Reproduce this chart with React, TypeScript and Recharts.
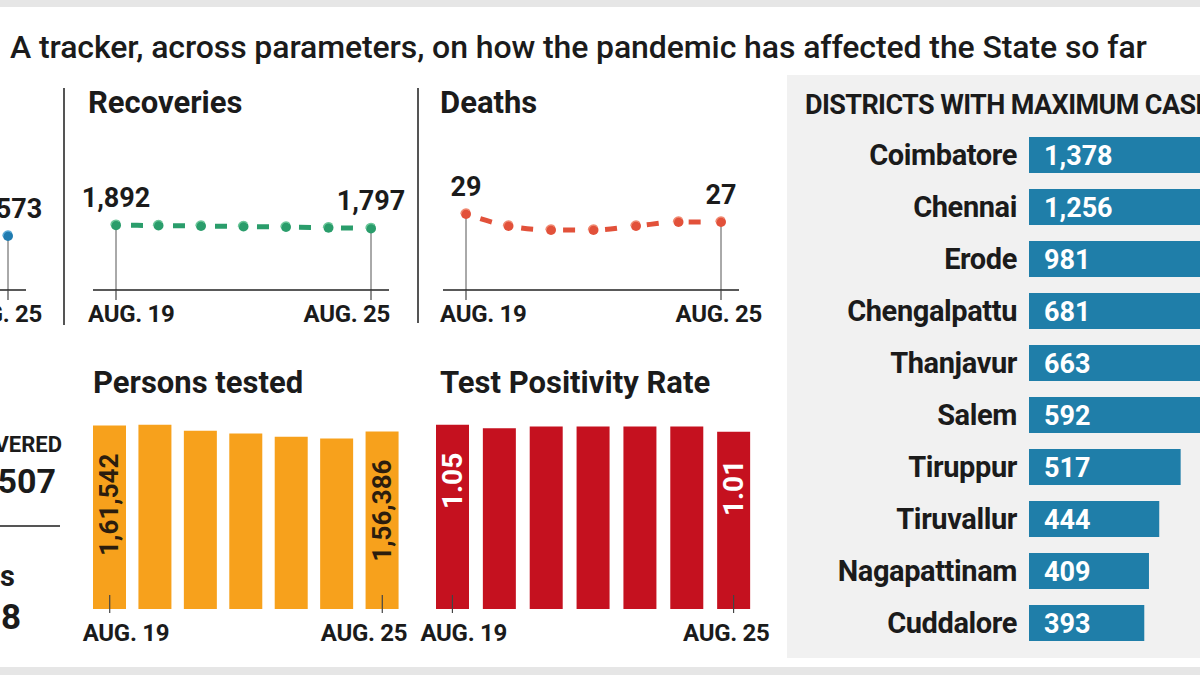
import React from "react";
import {
  LineChart,
  Line,
  BarChart,
  Bar,
  XAxis,
  YAxis,
  ReferenceLine,
  LabelList,
} from "recharts";

const days = ["AUG. 19", "AUG. 20", "AUG. 21", "AUG. 22", "AUG. 23", "AUG. 24", "AUG. 25"];
const newCases = [1702, 1668, 1652, 1630, 1604, 1585, 1573];
const recoveries = [1892, 1879, 1866, 1851, 1836, 1817, 1797];
const deaths = [29, 26, 25, 25, 26, 27, 27];
const personsTested = [161542, 162400, 157100, 154500, 151800, 150100, 156386];
const positivityRate = [1.05, 1.03, 1.04, 1.04, 1.04, 1.04, 1.01];

const districts = [
  "Coimbatore",
  "Chennai",
  "Erode",
  "Chengalpattu",
  "Thanjavur",
  "Salem",
  "Tiruppur",
  "Tiruvallur",
  "Nagapattinam",
  "Cuddalore",
];
const districtCases = [1378, 1256, 981, 681, 663, 592, 517, 444, 409, 393];

const ink = "#1b1b1b";
const font = "Roboto, 'Noto Sans', sans-serif";
const fmt = (v: number) => v.toLocaleString("en-IN");
const last = days.length - 1;

// absolutely placed html text; cy = vertical centre, right = x of right edge
function Txt({ left, right, cy, size, weight = 700, spacing = 0, children }: any) {
  const lh = Math.round(size * 1.3);
  const style: React.CSSProperties = {
    position: "absolute",
    top: cy - lh / 2,
    lineHeight: `${lh}px`,
    fontSize: size,
    fontWeight: weight,
    letterSpacing: spacing,
    color: ink,
    whiteSpace: "nowrap",
  };
  if (left !== undefined) style.left = left;
  if (right !== undefined) style.right = 1200 - right;
  return <div style={style}>{children}</div>;
}

const box = (p: any) => {
  const vb = p.viewBox && p.viewBox.x !== undefined ? p.viewBox : p;
  return { x: vb.x, y: vb.y, width: vb.width || 0 };
};

const endTick = (startOff: number, endOff: number, top: number, bottom: number) => (p: any) => {
  const v = p.payload.value;
  if (v !== days[0] && v !== days[last]) return <g />;
  const first = v === days[0];
  return (
    <g>
      <line x1={p.x} x2={p.x} y1={p.y - top} y2={p.y + bottom} stroke="#444" strokeWidth={1.2} />
      <text
        x={first ? p.x - startOff : p.x + endOff}
        y={p.y + 24}
        textAnchor={first ? "start" : "end"}
        dominantBaseline="central"
        fontSize={24}
        fontWeight={700}
        letterSpacing={-0.3}
        fill={ink}
      >
        {v}
      </text>
    </g>
  );
};

const pointLabel = (p: any) => {
  if (p.index !== 0 && p.index !== last) return null;
  const b = box(p);
  return (
    <text x={b.x} y={b.y - 27} textAnchor="middle" dominantBaseline="central" fontSize={27} fontWeight={700} fill={ink}>
      {fmt(p.value)}
    </text>
  );
};

function LinePanel({ left, values, domain, color, ring, startOff, endOff }: any) {
  const data = days.map((day, i) => ({ day, value: values[i] }));
  return (
    <div style={{ position: "absolute", left, top: 150 }}>
      <LineChart width={296} height={180} data={data} margin={{ top: 20, right: 0, bottom: 0, left: 0 }}>
        <XAxis
          dataKey="day"
          interval={0}
          padding={{ left: 23, right: 18 }}
          axisLine={{ stroke: "#222", strokeWidth: 1.5 }}
          tickLine={false}
          tickSize={0}
          tickMargin={0}
          height={40}
          tick={endTick(startOff, endOff, 0, 10)}
        />
        <YAxis hide domain={domain} />
        <ReferenceLine segment={[{ x: days[0], y: domain[0] }, { x: days[0], y: values[0] }]} stroke="#555" />
        <ReferenceLine segment={[{ x: days[last], y: domain[0] }, { x: days[last], y: values[last] }]} stroke="#555" />
        <Line
          dataKey="value"
          type="monotone"
          stroke={color}
          strokeWidth={5}
          strokeDasharray="0 15 12 15"
          dot={{ r: 5, fill: color, stroke: ring, strokeWidth: 1.5 }}
          isAnimationActive={false}
        >
          <LabelList dataKey="value" content={pointLabel} />
        </Line>
      </LineChart>
    </div>
  );
}

const barLabel = (color: string, size: number, format: (v: number) => string) => (p: any) => {
  if (p.index !== 0 && p.index !== last) return null;
  const b = box(p);
  const cx = b.x + b.width / 2;
  const ty = b.y + 28;
  return (
    <text
      x={cx}
      y={ty}
      transform={`rotate(-90 ${cx} ${ty})`}
      textAnchor="end"
      dominantBaseline="central"
      fontSize={size}
      fontWeight={700}
      fill={color}
    >
      {format(p.value)}
    </text>
  );
};

function BarPanel({ left, width, values, max, color, labelColor, labelSize, format, startOff, endOff }: any) {
  const data = days.map((day, i) => ({ day, value: values[i] }));
  return (
    <div style={{ position: "absolute", left, top: 400 }}>
      <BarChart width={width} height={249} data={data} margin={{ top: 16, right: 0, bottom: 0, left: 0 }} barSize={33}>
        <XAxis
          dataKey="day"
          interval={0}
          axisLine={false}
          tickLine={false}
          tickSize={0}
          tickMargin={0}
          height={40}
          tick={endTick(startOff, endOff, 14, 4)}
        />
        <YAxis hide domain={[0, max]} />
        <Bar dataKey="value" fill={color} isAnimationActive={false}>
          <LabelList dataKey="value" content={barLabel(labelColor, labelSize, format)} />
        </Bar>
      </BarChart>
    </div>
  );
}

const districtTick = (p: any) => (
  <text x={p.x} y={p.y} textAnchor="end" dominantBaseline="central" fontSize={29} fontWeight={700} letterSpacing={-0.4} fill={ink}>
    {p.payload.value}
  </text>
);

export default function App() {
  const districtData = districts.map((name, i) => ({ name, cases: districtCases[i] }));
  return (
    <div
      style={{
        position: "absolute",
        left: 0,
        top: 0,
        width: 1200,
        height: 675,
        overflow: "hidden",
        background: "#fff",
        fontFamily: font,
      }}
    >
      <style>{`.recharts-surface{overflow:visible}`}</style>
      <div style={{ position: "absolute", left: 0, top: 0, width: 1200, height: 7, background: "#e6e6e6" }} />
      <div style={{ position: "absolute", left: 0, top: 667, width: 1200, height: 8, background: "#e6e6e6" }} />

      <Txt left={10} cy={47} size={32} weight={500} spacing={-0.1}>
        A tracker, across parameters, on how the pandemic has affected the State so far
      </Txt>

      {/* cases panel, mostly cut off at the left edge */}
      <LinePanel left={-270} values={newCases} domain={[0, 3500]} color="#1f7bb0" ring="#5aa9d6" startOff={28} endOff={34} />
      <div style={{ position: "absolute", left: 63, top: 88, width: 1.5, height: 237, background: "#555" }} />

      <Txt left={88} cy={103} size={31}>Recoveries</Txt>
      <LinePanel left={93} values={recoveries} domain={[0, 3500]} color="#2a9d6b" ring="#6cc79a" startOff={28} endOff={19} />
      <div style={{ position: "absolute", left: 417, top: 88, width: 1.5, height: 235, background: "#555" }} />

      <Txt left={440} cy={103} size={31}>Deaths</Txt>
      <LinePanel left={443} values={deaths} domain={[10, 40]} color="#e2513a" ring="#f08a72" startOff={26} endOff={41} />

      {/* stats column, cut off at the left edge */}
      <Txt right={62} cy={444} size={22}>RECOVERED</Txt>
      <Txt right={56} cy={481} size={34}>25,38,507</Txt>
      <div style={{ position: "absolute", left: 0, top: 525, width: 60, height: 1.5, background: "#555" }} />
      <Txt right={15} cy={576} size={29}>Deaths</Txt>
      <Txt right={21} cy={618} size={35}>34,688</Txt>

      <Txt left={93} cy={383} size={31}>Persons tested</Txt>
      <BarPanel
        left={87}
        width={318}
        values={personsTested}
        max={170000}
        color="#f7a11c"
        labelColor="#2b1d0e"
        labelSize={26}
        format={fmt}
        startOff={27}
        endOff={25}
      />

      <Txt left={440} cy={383} size={31}>Test Positivity Rate</Txt>
      <BarPanel
        left={429}
        width={328}
        values={positivityRate}
        max={1.1}
        color="#c5111f"
        labelColor="#fff"
        labelSize={28}
        format={(v: number) => v.toFixed(2)}
        startOff={32}
        endOff={36}
      />

      {/* districts panel */}
      <div style={{ position: "absolute", left: 787, top: 75, width: 420, height: 583, background: "#f1f1f1" }} />
      <Txt left={805} cy={105} size={27} spacing={-0.6}>DISTRICTS WITH MAXIMUM CASES</Txt>
      <div style={{ position: "absolute", left: 799, top: 129 }}>
        <BarChart
          layout="vertical"
          width={670}
          height={520}
          data={districtData}
          margin={{ top: 0, right: 0, bottom: 0, left: 0 }}
          barSize={36}
        >
          <XAxis type="number" hide domain={[0, 1500]} />
          <YAxis
            type="category"
            dataKey="name"
            width={230}
            interval={0}
            axisLine={false}
            tickLine={false}
            tickSize={0}
            tickMargin={12}
            tick={districtTick}
          />
          <Bar dataKey="cases" fill="#1f7ea9" isAnimationActive={false}>
            <LabelList
              dataKey="cases"
              position="insideLeft"
              offset={15}
              fill="#fff"
              fontSize={27}
              fontWeight={700}
              formatter={(v: any) => fmt(Number(v))}
            />
          </Bar>
        </BarChart>
      </div>
    </div>
  );
}
